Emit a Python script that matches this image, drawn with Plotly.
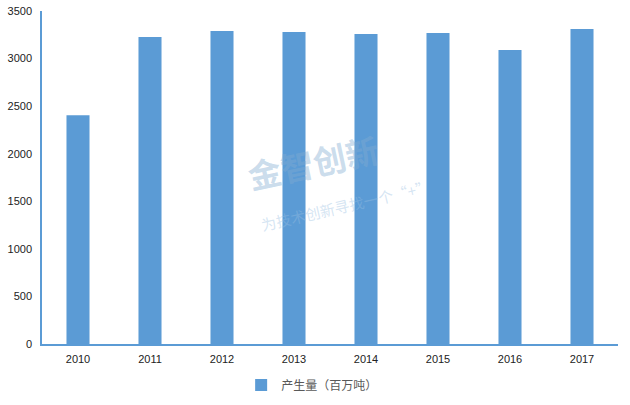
import plotly.graph_objects as go

years = ["2010", "2011", "2012", "2013", "2014", "2015", "2016", "2017"]
values = [2405, 3228, 3290, 3280, 3258, 3269, 3090, 3310]
series_name = "产生量（百万吨）"
y_ticks = [0, 500, 1000, 1500, 2000, 2500, 3000, 3500]

BLUE = "#5B9BD5"

fig = go.Figure()
fig.add_trace(go.Bar(x=years, y=values, name=series_name, marker_color=BLUE,
                     marker_line_width=0, showlegend=True))

def px_x(p):
    return (p - 42) / 576

def px_y(p):
    return (344 - p) / 333

fig.add_annotation(text="<b>金智创新</b>", x=px_x(313), y=px_y(162), xref="paper", yref="paper",
                   showarrow=False, textangle=-12,
                   font=dict(family="Noto Sans CJK SC", size=33, color="rgba(130,172,210,0.42)"))
fig.add_annotation(text="为技术创新寻找一个“+”", x=px_x(345), y=px_y(205), xref="paper", yref="paper",
                   showarrow=False, textangle=-13,
                   font=dict(family="Noto Sans CJK SC", size=15, color="rgba(150,190,225,0.4)"))

fig.update_layout(
    width=630, height=405,
    margin=dict(l=42, r=12, t=11, b=61, autoexpand=False),
    paper_bgcolor="white", plot_bgcolor="white",
    bargap=0.68,
    font=dict(family="Liberation Sans", size=11, color="#222222"),
    xaxis=dict(showgrid=False, showline=True, linecolor=BLUE, linewidth=1.5,
               ticks="", ticklabelstandoff=4, fixedrange=True, automargin=False),
    yaxis=dict(range=[0, 3500], tickvals=y_ticks, showgrid=False, showline=True,
               linecolor=BLUE, linewidth=1.5, ticks="", zeroline=False,
               ticklabelstandoff=6, automargin=False, ticklabeloverflow="allow"),
    legend=dict(orientation="h", x=0.469, xanchor="center", y=-0.123, yanchor="middle",
                font=dict(family="Noto Sans CJK SC", size=12, color="#595959"),
                itemwidth=30),
)

fig.write_html("out.html", config={"displayModeBar": False},
               post_script="document.body.style.margin='0';")
